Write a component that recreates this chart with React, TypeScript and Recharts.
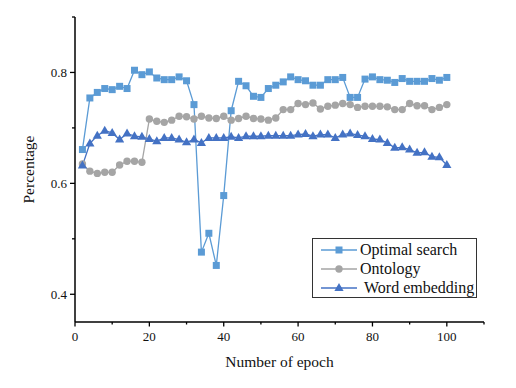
import React from "react";
import { LineChart, Line, XAxis, YAxis, Label } from "recharts";

const epochs = [2,4,6,8,10,12,14,16,18,20,22,24,26,28,30,32,34,36,38,40,42,44,46,48,50,52,54,56,58,60,62,64,66,68,70,72,74,76,78,80,82,84,86,88,90,92,94,96,98,100];

const optimalSearch = [0.661,0.754,0.764,0.771,0.769,0.775,0.771,0.804,0.796,0.801,0.790,0.787,0.787,0.792,0.785,0.742,0.476,0.510,0.452,0.578,0.731,0.784,0.776,0.757,0.755,0.771,0.777,0.783,0.792,0.787,0.785,0.777,0.777,0.787,0.787,0.791,0.755,0.755,0.788,0.792,0.787,0.786,0.782,0.789,0.784,0.784,0.784,0.789,0.786,0.791];

const ontology = [0.635,0.622,0.618,0.620,0.620,0.633,0.640,0.640,0.638,0.716,0.712,0.710,0.714,0.721,0.720,0.716,0.721,0.718,0.717,0.721,0.714,0.717,0.721,0.717,0.716,0.714,0.718,0.733,0.733,0.744,0.742,0.745,0.734,0.739,0.741,0.744,0.742,0.737,0.739,0.739,0.739,0.738,0.733,0.733,0.744,0.740,0.740,0.733,0.737,0.742];

const wordEmbedding = [0.632,0.672,0.686,0.695,0.691,0.679,0.690,0.685,0.684,0.680,0.676,0.682,0.682,0.679,0.674,0.679,0.673,0.682,0.682,0.682,0.684,0.682,0.685,0.685,0.685,0.686,0.686,0.686,0.686,0.688,0.689,0.685,0.688,0.688,0.682,0.688,0.690,0.687,0.685,0.680,0.679,0.673,0.664,0.665,0.661,0.655,0.656,0.648,0.647,0.633];

const xTicks = [0,10,20,30,40,50,60,70,80,90,100,110];
const yTicks = [0.4,0.5,0.6,0.7,0.8,0.9];
const seriesNames = ["Optimal search", "Ontology", "Word embedding"];
const colors = ["#5B9BD5", "#A5A5A5", "#4472C4"];

const data = epochs.map((e, i) => ({
  epoch: e,
  s0: optimalSearch[i],
  s1: ontology[i],
  s2: wordEmbedding[i],
}));

const FONT = "Liberation Serif";

const XTick = (props: any) => {
  const { x, y, payload } = props;
  const major = payload.value % 20 === 0;
  return (
    <g>
      <line x1={x} x2={x} y1={y} y2={y + (major ? 4.5 : 2.5)} stroke="#000" strokeWidth={1.3} />
      {major && payload.value <= 100 && (
        <text x={x} y={y + 19} textAnchor="middle" fontFamily={FONT} fontSize={13} fill="#111">
          {payload.value}
        </text>
      )}
    </g>
  );
};

const YTick = (props: any) => {
  const { x, y, payload } = props;
  const v = Math.round(payload.value * 10);
  const major = v % 2 === 0;
  return (
    <g>
      <line x1={x} x2={x - (major ? 5 : 3)} y1={y} y2={y} stroke="#000" strokeWidth={1.3} />
      {major && (
        <text x={x - 8} y={y + 4.5} textAnchor="end" fontFamily={FONT} fontSize={13} fill="#111">
          {(v / 10).toFixed(1)}
        </text>
      )}
    </g>
  );
};

const Square = (props: any) => {
  const { cx, cy } = props;
  return <rect x={cx - 3.5} y={cy - 3.5} width={7} height={7} fill={colors[0]} />;
};
const Circle = (props: any) => {
  const { cx, cy } = props;
  return <circle cx={cx} cy={cy} r={3.7} fill={colors[1]} />;
};
const Triangle = (props: any) => {
  const { cx, cy } = props;
  return <polygon points={`${cx},${cy - 5} ${cx - 4.6},${cy + 3} ${cx + 4.6},${cy + 3}`} fill={colors[2]} />;
};

const LegendIcon = ({ i }: { i: number }) => {
  const c = colors[i];
  return (
    <svg width={40} height={12} style={{ display: "block" }}>
      <line x1={2} x2={38} y1={6} y2={6} stroke={c} strokeWidth={1.3} />
      {i === 0 && <rect x={16.5} y={2.5} width={7} height={7} fill={c} />}
      {i === 1 && <circle cx={20} cy={6} r={3.7} fill={c} />}
      {i === 2 && <polygon points="20,1 15.4,9 24.6,9" fill={c} />}
    </svg>
  );
};

const LegendBox = () => (
  <div
    style={{
      position: "absolute",
      left: 312,
      top: 238,
      border: "1px solid #333",
      width: 165,
      height: 60,
      boxSizing: "border-box",
      paddingTop: 2,
      fontFamily: FONT,
      fontSize: 16,
      color: "#111",
      background: "#fff",
    }}
  >
    {seriesNames.map((n, i) => (
      <div key={n} style={{ display: "flex", alignItems: "center", height: 18.8 }}>
        <div style={{ marginLeft: 6 }}>
          <LegendIcon i={i} />
        </div>
        <span style={{ marginLeft: i === 2 ? 5 : 1, whiteSpace: "nowrap" }}>{n}</span>
      </div>
    ))}
  </div>
);

export default function App() {
  return (
    <div style={{ position: "absolute", left: 0, top: 0, width: 516, height: 388, background: "#fff", fontFamily: FONT }}>
      <LineChart
        width={516}
        height={388}
        data={data}
        margin={{ top: 17, right: 32, left: 0, bottom: 0 }}
      >
        <XAxis
          dataKey="epoch"
          type="number"
          domain={[0, 110]}
          ticks={xTicks}
          interval={0}
          height={66}
          tickSize={0}
          tickMargin={0}
          tickLine={false}
          tick={<XTick />}
          axisLine={{ stroke: "#000", strokeWidth: 1.5 }}
        >
          <Label
            value="Number of epoch"
            position="insideBottom"
            offset={21}
            fontFamily={FONT}
            fontSize={15.5}
            fill="#111"
          />
        </XAxis>
        <YAxis
          type="number"
          domain={[0.35, 0.9]}
          ticks={yTicks}
          interval={0}
          width={75}
          tickSize={0}
          tickMargin={0}
          tickLine={false}
          tick={<YTick />}
          allowDataOverflow
          axisLine={{ stroke: "#000", strokeWidth: 1.5 }}
        >
          <Label
            value="Percentage"
            angle={-90}
            position="insideLeft"
            offset={28}
            fontFamily={FONT}
            fontSize={15.5}
            fill="#111"
            style={{ textAnchor: "middle" }}
          />
        </YAxis>
        <Line dataKey="s0" name={seriesNames[0]} stroke={colors[0]} strokeWidth={1.3} dot={<Square />} isAnimationActive={false} />
        <Line dataKey="s1" name={seriesNames[1]} stroke={colors[1]} strokeWidth={1.3} dot={<Circle />} isAnimationActive={false} />
        <Line dataKey="s2" name={seriesNames[2]} stroke={colors[2]} strokeWidth={1.3} dot={<Triangle />} isAnimationActive={false} />
      </LineChart>
      <LegendBox />
    </div>
  );
}
